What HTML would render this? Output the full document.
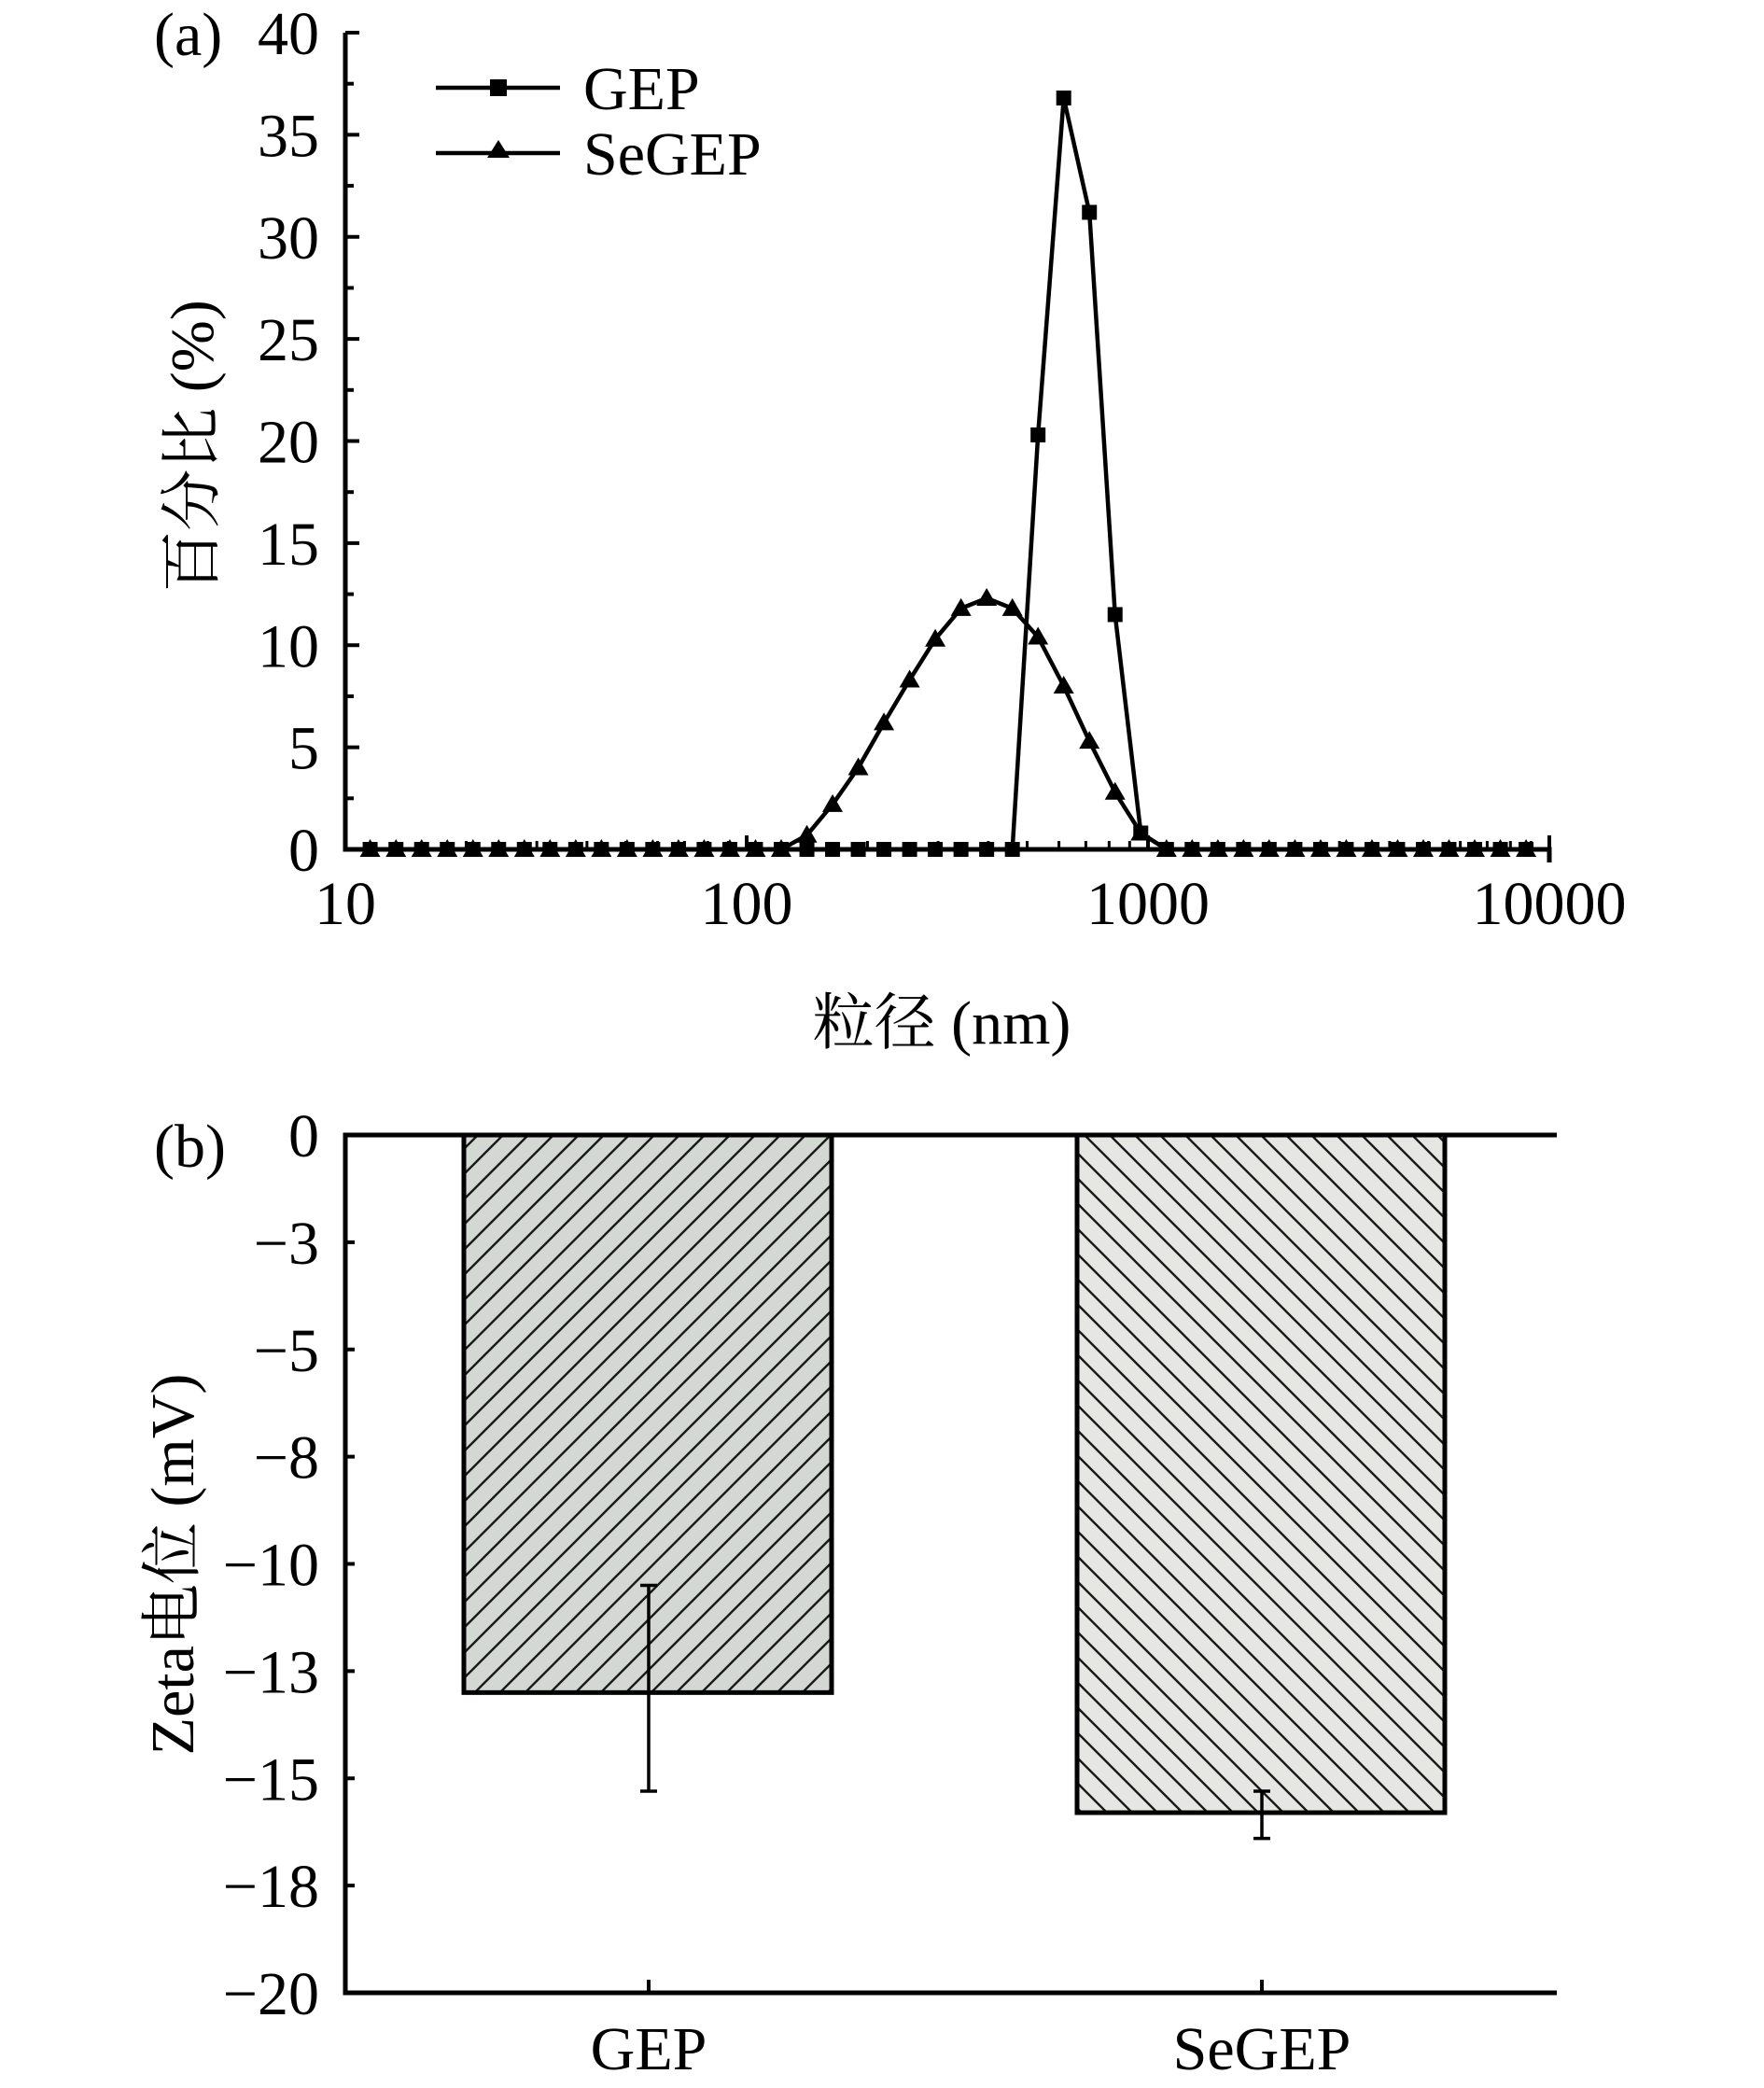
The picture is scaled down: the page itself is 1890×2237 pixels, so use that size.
<!DOCTYPE html>
<html><head><meta charset="utf-8">
<style>
html,body{margin:0;padding:0;background:#fff;}
svg{display:block;font-family:"Liberation Serif","Noto Serif CJK SC","Noto Sans CJK SC",serif;}
</style></head>
<body>
<svg id="fig" width="1890" height="2237" viewBox="0 0 1890 2237" xmlns="http://www.w3.org/2000/svg">
<defs>
<pattern id="hatchA" patternUnits="userSpaceOnUse" width="27" height="27">
<rect width="27" height="27" fill="#d3d8d3"/>
<path d="M-7,7 L7,-7 M0,27 L27,0 M20,34 L34,20" stroke="#1a1a1a" stroke-width="2.4"/>
</pattern>
<pattern id="hatchB" patternUnits="userSpaceOnUse" width="27" height="27">
<rect width="27" height="27" fill="#e6e6e2"/>
<path d="M-7,20 L7,34 M0,0 L27,27 M20,-7 L34,7" stroke="#1a1a1a" stroke-width="2.4"/>
</pattern>
</defs>
<g id="chartA"></g>
<g id="chartB"></g>
</svg>
<script>
// ---- Chart (a) data ----
const sizes = [11.53,13.37,15.49,17.95,20.80,24.10,27.93,32.36,37.50,43.45,50.35,58.34,67.61,78.34,90.78,105.2,121.9,141.3,163.7,189.7,219.8,254.7,295.1,342.0,396.3,459.2,532.1,616.6,714.5,827.9,959.4,1112,1288,1493,1730,2004,2323,2692,3119,3614,4188,4853,5623,6516,7551,8750];
const gepValues = [0,0,0,0,0,0,0,0,0,0,0,0,0,0,0,0,0,0,0,0,0,0,0,0,0,0,20.3,36.8,31.2,11.5,0.8,0,0,0,0,0,0,0,0,0,0,0,0,0,0,0];
const segepValues = [0,0,0,0,0,0,0,0,0,0,0,0,0,0,0,0,0,0.7,2.2,4.0,6.2,8.3,10.3,11.8,12.3,11.8,10.4,8.0,5.3,2.8,0.8,0,0,0,0,0,0,0,0,0,0,0,0,0,0,0];
const xTickValues = [10,100,1000,10000];
const xTickLabels = ["10","100","1000","10000"];
const yTickValuesA = [0,5,10,15,20,25,30,35,40];
// ---- Chart (b) data ----
const categories = ["GEP","SeGEP"];
const zetaValues = [-13.0,-15.8];
const zetaErrLow = [-15.3,-16.4];
const zetaErrHigh = [-10.5,-15.3];
const yTickValuesB = [0,-2.5,-5,-7.5,-10,-12.5,-15,-17.5,-20];
const yTickLabelsB = ["0","\u22123","\u22125","\u22128","\u221210","\u221213","\u221215","\u221218","\u221220"];

const NS="http://www.w3.org/2000/svg";
const FS=66;
function mk(parent,tag,attrs,text){const e=document.createElementNS(NS,tag);for(const k in attrs)e.setAttribute(k,attrs[k]);if(text!==undefined)e.textContent=text;parent.appendChild(e);return e;}

// ===== Chart A =====
const A=document.getElementById('chartA');
const ax0=370, ax1=1660, ay0=910, ay1=35;
const xA=v=>ax0+(Math.log10(v)-1)/3*(ax1-ax0);
const yA=v=>ay0-(v/40)*(ay0-ay1);
let e;
e=mk(A,'path',{d:`M${ax0},${ay1} L${ax0},${ay0} L${ax1},${ay0} L${ax1},${ay0+14}`,fill:'none',stroke:'#000','stroke-width':5});


for(let v=0;v<=40;v+=2.5){
  const major=v%5===0;
  e=mk(A,'line',{x1:ax0,x2:ax0+(major?15:9),y1:yA(v),y2:yA(v),stroke:'#000','stroke-width':4});
  
  
}
yTickValuesA.forEach(v=>{
  e=mk(A,'text',{x:342,y:yA(v)+23,'text-anchor':'end','font-size':FS},String(v));
  
  
});
for(let d=10;d<10000;d*=10){for(let m=2;m<=9;m++){
  e=mk(A,'line',{x1:xA(d*m),x2:xA(d*m),y1:ay0,y2:ay0-9,stroke:'#000','stroke-width':3});
  
  
}}
xTickValues.forEach((v,i)=>{
  e=mk(A,'line',{x1:xA(v),x2:xA(v),y1:ay0,y2:ay0-15,stroke:'#000','stroke-width':4});
  
  
  e=mk(A,'text',{x:xA(v),y:990,'text-anchor':'middle','font-size':FS},xTickLabels[i]);
  
  
});
function series(vals,name,marker){
  const pts=sizes.map((s,i)=>`${xA(s).toFixed(1)},${yA(vals[i]).toFixed(1)}`).join(' ');
  let l=mk(A,'polyline',{points:pts,fill:'none',stroke:'#000','stroke-width':4.5,'stroke-linejoin':'round'});
  
  
  sizes.forEach((s,i)=>{
    const cx=xA(s), cy=yA(vals[i]);
    let m;
    if(marker==='sq') m=mk(A,'rect',{x:cx-8,y:cy-8,width:16,height:16,fill:'#000'});
    else m=mk(A,'polygon',{points:`${cx},${cy-11} ${cx-11},${cy+8} ${cx+11},${cy+8}`,fill:'#000'});
    
    
  });
}
series(gepValues,'gep','sq');
series(segepValues,'segep','tri');
// legend
e=mk(A,'g',{});


const lg=e;
e=mk(lg,'line',{x1:467,x2:600,y1:94,y2:94,stroke:'#000','stroke-width':4.5});


e=mk(lg,'rect',{x:525,y:85,width:18,height:18,fill:'#000'});


e=mk(lg,'text',{x:625,y:117,'font-size':FS},'GEP');


e=mk(lg,'line',{x1:467,x2:600,y1:164,y2:164,stroke:'#000','stroke-width':4.5});


e=mk(lg,'polygon',{points:'534,150 522,169 546,169',fill:'#000'});


e=mk(lg,'text',{x:625,y:187,'font-size':FS},'SeGEP');


e=mk(A,'text',{x:165,y:59,'font-size':FS},'(a)');


e=mk(A,'text',{x:1009,y:1118,'text-anchor':'middle','font-size':FS},'粒径 (nm)');


e=mk(A,'text',{x:0,y:0,'text-anchor':'middle','font-size':FS,transform:'translate(228,478) rotate(-90)'},'百分比 (%)');



// ===== Chart B =====
const B=document.getElementById('chartB');
const bx0=370, bx1=1668, by0=1216, by1=2135;
const yB=v=>by0+(-v/20)*(by1-by0);
const catX=[694,1351];
const barW=394;
e=mk(B,'text',{x:165,y:1250,'font-size':FS},'(b)');


categories.forEach((c,i)=>{
  const x=catX[i]-barW/2, y=yB(0), h=yB(zetaValues[i])-y;
  e=mk(B,'rect',{x:x,y:y,width:barW,height:h,fill:i===0?'url(#hatchA)':'url(#hatchB)',stroke:'#000','stroke-width':5});
  
  
  const ex=catX[i]+1;
  e=mk(B,'path',{d:`M${ex},${yB(zetaErrHigh[i])} L${ex},${yB(zetaErrLow[i])} M${ex-9},${yB(zetaErrHigh[i])} L${ex+9},${yB(zetaErrHigh[i])} M${ex-9},${yB(zetaErrLow[i])} L${ex+9},${yB(zetaErrLow[i])}`,stroke:'#000','stroke-width':3.5,fill:'none'});
  
  
  e=mk(B,'line',{x1:ex,x2:ex,y1:by1,y2:by1-14,stroke:'#000','stroke-width':4});
  
  
  e=mk(B,'text',{x:ex,y:2217,'text-anchor':'middle','font-size':FS},c);
  
  
});
e=mk(B,'path',{d:`M${bx1},${by0} L${bx0},${by0} L${bx0},${by1} L${bx1},${by1}`,fill:'none',stroke:'#000','stroke-width':5});


yTickValuesB.forEach((v,i)=>{
  e=mk(B,'line',{x1:bx0,x2:bx0+10,y1:yB(v),y2:yB(v),stroke:'#000','stroke-width':4});
  
  
  e=mk(B,'text',{x:342,y:yB(v)+23,'text-anchor':'end','font-size':FS},yTickLabelsB[i]);
  
  
});
e=mk(B,'text',{x:0,y:0,'text-anchor':'middle','font-size':FS,transform:'translate(207,1676) rotate(-90)'},'Zeta电位 (mV)');


</script>
</body></html>
